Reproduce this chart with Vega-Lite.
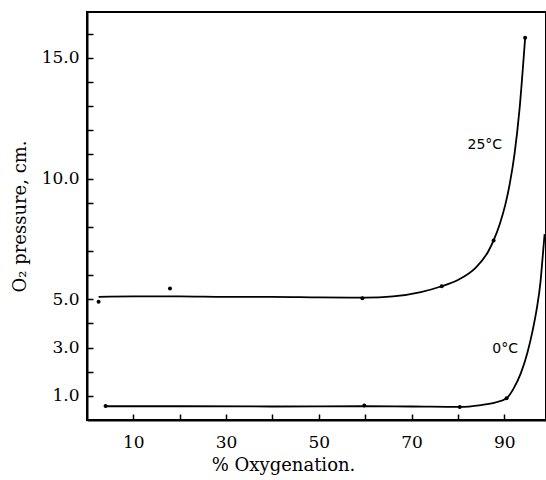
{
  "$schema": "https://vega.github.io/schema/vega-lite/v6.json",
  "width": 459,
  "height": 408,
  "autosize": "none",
  "padding": {"left": 87, "top": 12, "right": 0, "bottom": 60},
  "background": "white",
  "config": {
    "view": {"stroke": "black", "strokeWidth": 2},
    "axis": {
      "grid": false,
      "domainColor": "black",
      "domainWidth": 2,
      "tickColor": "black",
      "tickWidth": 1.5,
      "labelColor": "black",
      "labelFont": "DejaVu Serif",
      "labelFontSize": 17,
      "labelOverlap": false,
      "titleColor": "black",
      "titleFont": "DejaVu Serif",
      "titleFontSize": 18,
      "titleFontWeight": "normal"
    }
  },
  "datasets": {
    "pts": [
      {"series": "25°C", "kind": "curve", "x": 2.5, "y": 5.1},
      {"series": "25°C", "kind": "curve", "x": 10, "y": 5.12},
      {"series": "25°C", "kind": "curve", "x": 20, "y": 5.12},
      {"series": "25°C", "kind": "curve", "x": 30, "y": 5.1},
      {"series": "25°C", "kind": "curve", "x": 40, "y": 5.1},
      {"series": "25°C", "kind": "curve", "x": 50, "y": 5.08},
      {"series": "25°C", "kind": "curve", "x": 60, "y": 5.07},
      {"series": "25°C", "kind": "curve", "x": 66, "y": 5.12},
      {"series": "25°C", "kind": "curve", "x": 72, "y": 5.3},
      {"series": "25°C", "kind": "curve", "x": 76.5, "y": 5.54},
      {"series": "25°C", "kind": "curve", "x": 80, "y": 5.8},
      {"series": "25°C", "kind": "curve", "x": 83.8, "y": 6.3},
      {"series": "25°C", "kind": "curve", "x": 86.6, "y": 7.0},
      {"series": "25°C", "kind": "curve", "x": 87.7, "y": 7.44},
      {"series": "25°C", "kind": "curve", "x": 89, "y": 8.1},
      {"series": "25°C", "kind": "curve", "x": 90.2, "y": 8.9},
      {"series": "25°C", "kind": "curve", "x": 91.2, "y": 9.8},
      {"series": "25°C", "kind": "curve", "x": 92.2, "y": 11.0},
      {"series": "25°C", "kind": "curve", "x": 93.3, "y": 12.9},
      {"series": "25°C", "kind": "curve", "x": 94.5, "y": 15.83},
      {"series": "0°C", "kind": "curve", "x": 4, "y": 0.57},
      {"series": "0°C", "kind": "curve", "x": 20, "y": 0.57},
      {"series": "0°C", "kind": "curve", "x": 40, "y": 0.56},
      {"series": "0°C", "kind": "curve", "x": 59.8, "y": 0.57},
      {"series": "0°C", "kind": "curve", "x": 70, "y": 0.56},
      {"series": "0°C", "kind": "curve", "x": 80.4, "y": 0.54},
      {"series": "0°C", "kind": "curve", "x": 85, "y": 0.62},
      {"series": "0°C", "kind": "curve", "x": 88, "y": 0.72},
      {"series": "0°C", "kind": "curve", "x": 90.5, "y": 0.9},
      {"series": "0°C", "kind": "curve", "x": 92, "y": 1.3},
      {"series": "0°C", "kind": "curve", "x": 93.6, "y": 1.95},
      {"series": "0°C", "kind": "curve", "x": 95, "y": 2.8},
      {"series": "0°C", "kind": "curve", "x": 96, "y": 3.6},
      {"series": "0°C", "kind": "curve", "x": 97, "y": 4.6},
      {"series": "0°C", "kind": "curve", "x": 97.8, "y": 5.7},
      {"series": "0°C", "kind": "curve", "x": 98.3, "y": 6.8},
      {"series": "0°C", "kind": "curve", "x": 98.7, "y": 7.7},
      {"series": "25°C", "kind": "obs", "x": 2.5, "y": 4.9},
      {"series": "25°C", "kind": "obs", "x": 17.9, "y": 5.45},
      {"series": "25°C", "kind": "obs", "x": 59.4, "y": 5.04},
      {"series": "25°C", "kind": "obs", "x": 76.5, "y": 5.54},
      {"series": "25°C", "kind": "obs", "x": 87.7, "y": 7.44},
      {"series": "25°C", "kind": "obs", "x": 94.5, "y": 15.83},
      {"series": "0°C", "kind": "obs", "x": 4, "y": 0.58},
      {"series": "0°C", "kind": "obs", "x": 59.8, "y": 0.6},
      {"series": "0°C", "kind": "obs", "x": 80.4, "y": 0.54},
      {"series": "0°C", "kind": "obs", "x": 90.5, "y": 0.9}
    ],
    "labels": [
      {"label": "25°C", "x": 85.8, "y": 11.4, "weight": 600},
      {"label": "0°C", "x": 90.2, "y": 2.93, "weight": 700}
    ]
  },
  "encoding": {
    "x": {
      "field": "x", "type": "quantitative",
      "scale": {"domain": [0, 99], "nice": false, "zero": false},
      "axis": {
        "title": "% Oxygenation.",
        "values": [10, 20, 30, 40, 50, 60, 70, 80, 90],
        "labelExpr": "datum.value % 20 == 10 ? datum.value : ''",
        "labelOverlap": false,
        "tickSize": -6,
        "labelPadding": 20,
        "titleX": 196,
        "titlePadding": 6
      }
    },
    "y": {
      "field": "y", "type": "quantitative",
      "scale": {"domain": [0, 16.9], "nice": false},
      "axis": {
        "title": "O₂ pressure, cm.",
        "values": [1, 2, 3, 4, 5, 6, 7, 8, 9, 10, 11, 12, 13, 14, 15, 16],
        "labelExpr": "(datum.value == 1 || datum.value == 3 || datum.value == 5 || datum.value == 10 || datum.value == 15) ? format(datum.value, '.1f') : ''",
        "labelOverlap": false,
        "tickSize": -6,
        "labelPadding": 14,
        "titlePadding": 12
      }
    }
  },
  "layer": [
    {
      "data": {"name": "pts"},
      "transform": [{"filter": "datum.kind == 'curve'"}],
      "mark": {"type": "line", "interpolate": "monotone", "color": "black", "strokeWidth": 1.8},
      "encoding": {
        "detail": {"field": "series"}
      }
    },
    {
      "data": {"name": "pts"},
      "transform": [{"filter": "datum.kind == 'obs'"}],
      "mark": {"type": "circle", "color": "black", "size": 16, "opacity": 1}
    },
    {
      "data": {"name": "labels"},
      "mark": {"type": "text", "font": "DejaVu Sans", "fontSize": 14, "color": "black"},
      "encoding": {
        "text": {"field": "label"},
        "fontWeight": {"field": "weight", "type": "quantitative", "scale": null}
      }
    }
  ]
}
